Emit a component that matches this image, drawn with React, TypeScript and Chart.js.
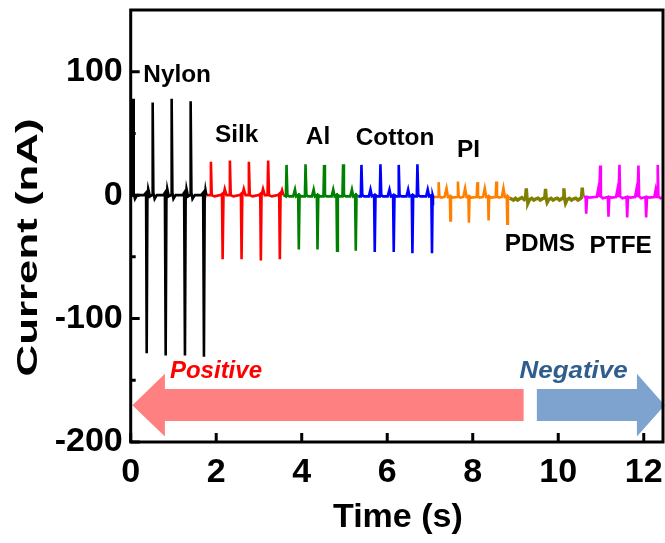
import React, { useEffect, useRef } from 'react';
import { Chart, registerables } from 'chart.js';

Chart.register(...registerables);

type Pt = [number, number];

// Time (s), current (nA)
const nylon: Pt[] = [
  [0.0, 1], [0.04, 0], [0.054, 78], [0.07, 2], [0.1, -3], [0.15, 0], [0.31, 0], [0.36, 2], [0.374, -128], [0.39, -4], [0.41, 5], [0.45, -1],
  [0.5, 0], [0.514, 75], [0.53, 2], [0.56, -3], [0.61, 0], [0.76, 0], [0.8, 2], [0.818, -130], [0.835, -4], [0.855, 5], [0.89, -1],
  [0.944, 0], [0.958, 78], [0.975, 2], [1.0, -3], [1.05, 0], [1.21, 0], [1.25, 2], [1.269, -130], [1.285, -4], [1.305, 5], [1.34, -1],
  [1.388, 0], [1.402, 76], [1.42, 2], [1.445, -3], [1.5, 0], [1.65, 0], [1.695, 2], [1.713, -131], [1.73, -4], [1.75, 4], [1.77, 0],
];

const silk: Pt[] = [
  [1.77, 0], [1.86, 0], [1.876, 27], [1.895, 0], [1.96, -1], [2.1, 0], [2.135, 1], [2.15, -52], [2.17, 0], [2.2, 5], [2.24, 0],
  [2.305, 0], [2.32, 28], [2.34, 0], [2.4, -1], [2.545, 0], [2.578, 1], [2.593, -52], [2.61, 0], [2.645, 5], [2.685, 0],
  [2.75, 0], [2.764, 27], [2.785, 0], [2.85, -1], [2.995, 0], [3.03, 1], [3.044, -53], [3.06, 0], [3.095, 5], [3.135, 0],
  [3.2, 0], [3.215, 28], [3.235, 0], [3.3, -1], [3.44, 0], [3.473, 1], [3.488, -52], [3.505, 0], [3.54, 4], [3.57, 0],
];

const al: Pt[] = [
  [3.57, 0], [3.63, -1], [3.645, 24.5], [3.665, 0], [3.71, -1], [3.8, -1], [3.842, 4.5], [3.87, -1], [3.917, 0], [3.932, -44], [3.95, 0], [3.99, -1],
  [4.074, -1], [4.089, 25], [4.11, 0], [4.15, -1], [4.24, -1], [4.279, 4.5], [4.31, -1], [4.354, 0], [4.369, -44], [4.388, 0], [4.43, -1],
  [4.508, -1], [4.523, 24.5], [4.543, 0], [4.58, -1], [4.7, -1], [4.737, 4.5], [4.77, -1], [4.812, 0], [4.827, -45], [4.845, 0], [4.89, -1],
  [4.952, -1], [4.967, 25], [4.987, 0], [5.03, -1], [5.135, -1], [5.174, 4.5], [5.205, -1], [5.249, 0], [5.264, -45], [5.282, 0], [5.32, -1],
];

const cotton: Pt[] = [
  [5.32, -1], [5.382, -1], [5.397, 24.5], [5.417, 0], [5.46, -1], [5.57, -1], [5.608, 4.5], [5.64, -1], [5.693, 0], [5.708, -46], [5.726, 0], [5.77, -1],
  [5.826, -1], [5.841, 25], [5.861, 0], [5.9, -1], [6.01, -1], [6.052, 4.5], [6.085, -1], [6.137, 0], [6.152, -46], [6.17, 0], [6.21, -1],
  [6.254, -1], [6.269, 24.5], [6.289, 0], [6.33, -1], [6.45, -1], [6.489, 4.5], [6.52, -1], [6.574, 0], [6.589, -47], [6.607, 0], [6.65, -1],
  [6.691, -1], [6.706, 25], [6.726, 0], [6.77, -1], [6.91, -1], [6.947, 4.5], [6.98, -1], [7.032, 0], [7.047, -47], [7.062, 0], [7.07, -1],
];

const pi: Pt[] = [
  [7.07, -1.5], [7.19, -1.5], [7.203, 10.5], [7.22, -1], [7.26, -2], [7.34, -1.5], [7.387, 5.5], [7.42, -1.5], [7.465, -1], [7.477, -20.5], [7.49, -1], [7.53, -2],
  [7.64, -1.5], [7.654, 11], [7.67, -1], [7.71, -2], [7.78, -1.5], [7.821, 5.5], [7.855, -1.5], [7.899, -1], [7.911, -22.4], [7.925, -1], [7.97, -2],
  [8.093, -1.5], [8.107, 10.5], [8.123, -1], [8.16, -2], [8.24, -1.5], [8.281, 5.5], [8.315, -1.5], [8.359, -1], [8.371, -20.5], [8.385, -1], [8.43, -2],
  [8.537, -1.5], [8.551, 11], [8.567, -1], [8.61, -2], [8.68, -1.5], [8.718, 5.5], [8.75, -1.5], [8.796, -1], [8.808, -23.2], [8.822, -1], [8.862, -2.5],
];

const pdms: Pt[] = [
  [8.862, -2.5], [8.9, -3], [8.95, -4], [9.0, -2.5], [9.05, -4], [9.1, -3], [9.15, -2], [9.2, -3.5], [9.235, -2], [9.252, 5.5], [9.27, -3], [9.29, -6.5],
  [9.33, -3.5], [9.38, -2.5], [9.43, -4], [9.48, -3], [9.53, -2.5], [9.58, -4], [9.63, -3], [9.685, -2], [9.703, 5], [9.72, -3], [9.74, -6],
  [9.78, -3.5], [9.83, -2.5], [9.88, -4], [9.93, -3], [9.98, -2.5], [10.03, -4], [10.08, -3], [10.113, -2], [10.131, 5.5], [10.15, -3], [10.17, -6.5],
  [10.21, -3.5], [10.26, -2.5], [10.31, -4], [10.36, -3], [10.41, -2.5], [10.46, -4], [10.51, -3], [10.543, -2], [10.561, 6], [10.58, -1], [10.593, -1],
];

const ptfe: Pt[] = [
  [10.593, -1], [10.64, -1.5], [10.654, -15], [10.675, -1.5], [10.73, -2], [10.85, -1.5], [10.9, -1.5], [10.93, 4], [10.955, -1.5], [10.967, -1.5], [10.981, 24], [10.997, -1], [11.04, -2.5],
  [11.16, -1.5], [11.175, -17.5], [11.195, -1.5], [11.25, -2], [11.352, -1.5], [11.382, 4], [11.407, -1.5], [11.418, -1.5], [11.432, 24.5], [11.448, -1], [11.5, -2.5],
  [11.597, -1.5], [11.612, -18], [11.632, -1.5], [11.69, -2], [11.796, -1.5], [11.826, 4], [11.851, -1.5], [11.862, -1.5], [11.876, 24], [11.892, -1], [11.94, -2.5],
  [12.041, -1.5], [12.056, -18], [12.076, -1.5], [12.13, -2], [12.247, -1.5], [12.277, 4], [12.302, -1.5], [12.313, -1.5], [12.327, 24.5], [12.343, -1], [12.39, -2.5],
  [12.48, -1.5], [12.495, -17], [12.515, -1.5],
];

const seriesNames = ['Nylon', 'Silk', 'Al', 'Cotton', 'PI', 'PDMS', 'PTFE'];
const seriesData = [nylon, silk, al, cotton, pi, pdms, ptfe];
const seriesColors = ['#000000', '#FF0000', '#008000', '#0000FF', '#FF8000', '#808000', '#FF00FF'];
const seriesWidths = [2.6, 2.6, 2.6, 2.6, 2.6, 3.4, 2.6];

const xTickValues = [0, 2, 4, 6, 8, 10, 12];
const yTickValues = [-200, -100, 0, 100];
const yMinorValues = [-150, -50, 50];

// material labels: text, time of left edge, current at baseline
const labelTexts = ['Nylon', 'Silk', 'Al', 'Cotton', 'PI', 'PDMS', 'PTFE'];
const labelT = [0.294, 1.97, 4.096, 5.264, 7.631, 8.746, 10.731];
const labelV = [91.3, 42.8, 41.5, 41.0, 31.3, -45.3, -46.6];

const FONT = "'Liberation Sans', Arial, Helvetica, sans-serif";

const decorPlugin = {
  id: 'decor',
  beforeDatasetsDraw(chart: any) {
    const { ctx } = chart;
    const xs = chart.scales.x;
    const ys = chart.scales.y;
    const X = (t: number) => xs.getPixelForValue(t);
    const Y = (v: number) => ys.getPixelForValue(v);
    ctx.save();
    // pink arrow pointing left (Positive)
    ctx.fillStyle = '#FF8080';
    ctx.beginPath();
    ctx.moveTo(X(0.04), Y(-170.2));
    ctx.lineTo(X(0.8), Y(-144.7));
    ctx.lineTo(X(0.8), Y(-157.1));
    ctx.lineTo(X(9.19), Y(-157.1));
    ctx.lineTo(X(9.19), Y(-183));
    ctx.lineTo(X(0.8), Y(-183));
    ctx.lineTo(X(0.8), Y(-195.6));
    ctx.closePath();
    ctx.fill();
    // blue arrow pointing right (Negative)
    ctx.fillStyle = '#7FA3CF';
    ctx.beginPath();
    ctx.moveTo(X(9.5), Y(-157.1));
    ctx.lineTo(X(11.84), Y(-157.1));
    ctx.lineTo(X(11.84), Y(-144.7));
    ctx.lineTo(X(12.49), Y(-170.2));
    ctx.lineTo(X(11.84), Y(-195.6));
    ctx.lineTo(X(11.84), Y(-183));
    ctx.lineTo(X(9.5), Y(-183));
    ctx.closePath();
    ctx.fill();
    ctx.restore();
  },
  afterDatasetsDraw(chart: any) {
    const { ctx, chartArea } = chart;
    const xs = chart.scales.x;
    const ys = chart.scales.y;
    const X = (t: number) => xs.getPixelForValue(t);
    const Y = (v: number) => ys.getPixelForValue(v);
    ctx.save();
    // material labels
    ctx.fillStyle = '#000';
    ctx.font = `bold 23px ${FONT}`;
    ctx.textAlign = 'left';
    ctx.textBaseline = 'alphabetic';
    labelTexts.forEach((txt, i) => {
      ctx.save();
      ctx.translate(X(labelT[i]), Y(labelV[i]));
      ctx.scale(1.06, 1);
      ctx.fillText(txt, 0, 0);
      ctx.restore();
    });
    // arrow captions
    ctx.font = `italic bold 24px ${FONT}`;
    ctx.fillStyle = '#FF0000';
    ctx.fillText('Positive', X(0.918), Y(-147.9));
    ctx.save();
    ctx.fillStyle = '#2F5D8C';
    ctx.translate(X(9.096), Y(-148.5));
    ctx.scale(1.08, 1);
    ctx.fillText('Negative', 0, 0);
    ctx.restore();

    // frame
    ctx.strokeStyle = '#000';
    ctx.lineWidth = 3;
    ctx.strokeRect(chartArea.left, chartArea.top, chartArea.right - chartArea.left, chartArea.bottom - chartArea.top);
    // inward ticks
    ctx.beginPath();
    xTickValues.forEach((v) => {
      const px = X(v);
      ctx.moveTo(px, chartArea.bottom);
      ctx.lineTo(px, chartArea.bottom - 9);
    });
    yTickValues.forEach((v) => {
      const py = Y(v);
      ctx.moveTo(chartArea.left, py);
      ctx.lineTo(chartArea.left + 9, py);
    });
    yMinorValues.forEach((v) => {
      const py = Y(v);
      ctx.moveTo(chartArea.left, py);
      ctx.lineTo(chartArea.left + 5, py);
    });
    ctx.stroke();

    // axis titles
    ctx.fillStyle = '#000';
    ctx.font = `bold 34px ${FONT}`;
    ctx.textAlign = 'center';
    ctx.textBaseline = 'alphabetic';
    ctx.fillText('Time (s)', (chartArea.left + chartArea.right) / 2 + 1, 526.7);

    ctx.font = `bold 30px ${FONT}`;
    const yt = 'Current (nA)';
    const w = ctx.measureText(yt).width;
    ctx.translate(36.5, 247.5);
    ctx.rotate(-Math.PI / 2);
    ctx.scale(258 / w, 1);
    ctx.fillText(yt, 0, 0);
    ctx.restore();
  },
};

const zeroPad = (s: any) => {
  s.paddingTop = 0;
  s.paddingBottom = 0;
  s.paddingLeft = 0;
  s.paddingRight = 0;
};

export default function App() {
  const canvasRef = useRef<HTMLCanvasElement | null>(null);

  useEffect(() => {
    const canvas = canvasRef.current;
    if (!canvas) return;
    const chart = new Chart(canvas, {
      type: 'line',
      data: {
        datasets: seriesData.map((pts, i) => ({
          label: seriesNames[i],
          data: pts.map(([t, v]) => ({ x: t, y: v })),
          borderColor: seriesColors[i],
          backgroundColor: seriesColors[i],
          borderWidth: seriesWidths[i],
          pointRadius: 0,
          tension: 0,
          fill: false,
        })),
      },
      options: {
        animation: false,
        responsive: false,
        maintainAspectRatio: false,
        devicePixelRatio: 1,
        layout: { padding: { top: 10, right: 2, left: 0, bottom: 0 } },
        plugins: { legend: { display: false }, tooltip: { enabled: false } },
        scales: {
          x: {
            type: 'linear',
            min: 0,
            max: 12.45,
            grid: { display: false, drawTicks: false },
            border: { display: false },
            afterBuildTicks: (s: any) => {
              s.ticks = xTickValues.map((v) => ({ value: v }));
            },
            afterFit: (s: any) => {
              s.height = 101;
              zeroPad(s);
            },
            ticks: {
              autoSkip: false,
              maxRotation: 0,
              padding: 10,
              color: '#000',
              font: { family: FONT, size: 34, weight: 'bold' },
            },
          },
          y: {
            type: 'linear',
            min: -200,
            max: 150,
            grid: { display: false, drawTicks: false },
            border: { display: false },
            afterBuildTicks: (s: any) => {
              s.ticks = yTickValues.map((v) => ({ value: v }));
            },
            afterFit: (s: any) => {
              s.width = 130.7;
              zeroPad(s);
            },
            ticks: {
              padding: 8,
              color: '#000',
              font: { family: FONT, size: 34, weight: 'bold' },
            },
          },
        },
      } as any,
      plugins: [decorPlugin],
    });
    return () => chart.destroy();
  }, []);

  return (
    <div style={{ position: 'fixed', left: 0, top: 0, width: 665, height: 543, background: '#fff' }}>
      <canvas ref={canvasRef} width={665} height={543} style={{ display: 'block', width: 665, height: 543 }} />
    </div>
  );
}
